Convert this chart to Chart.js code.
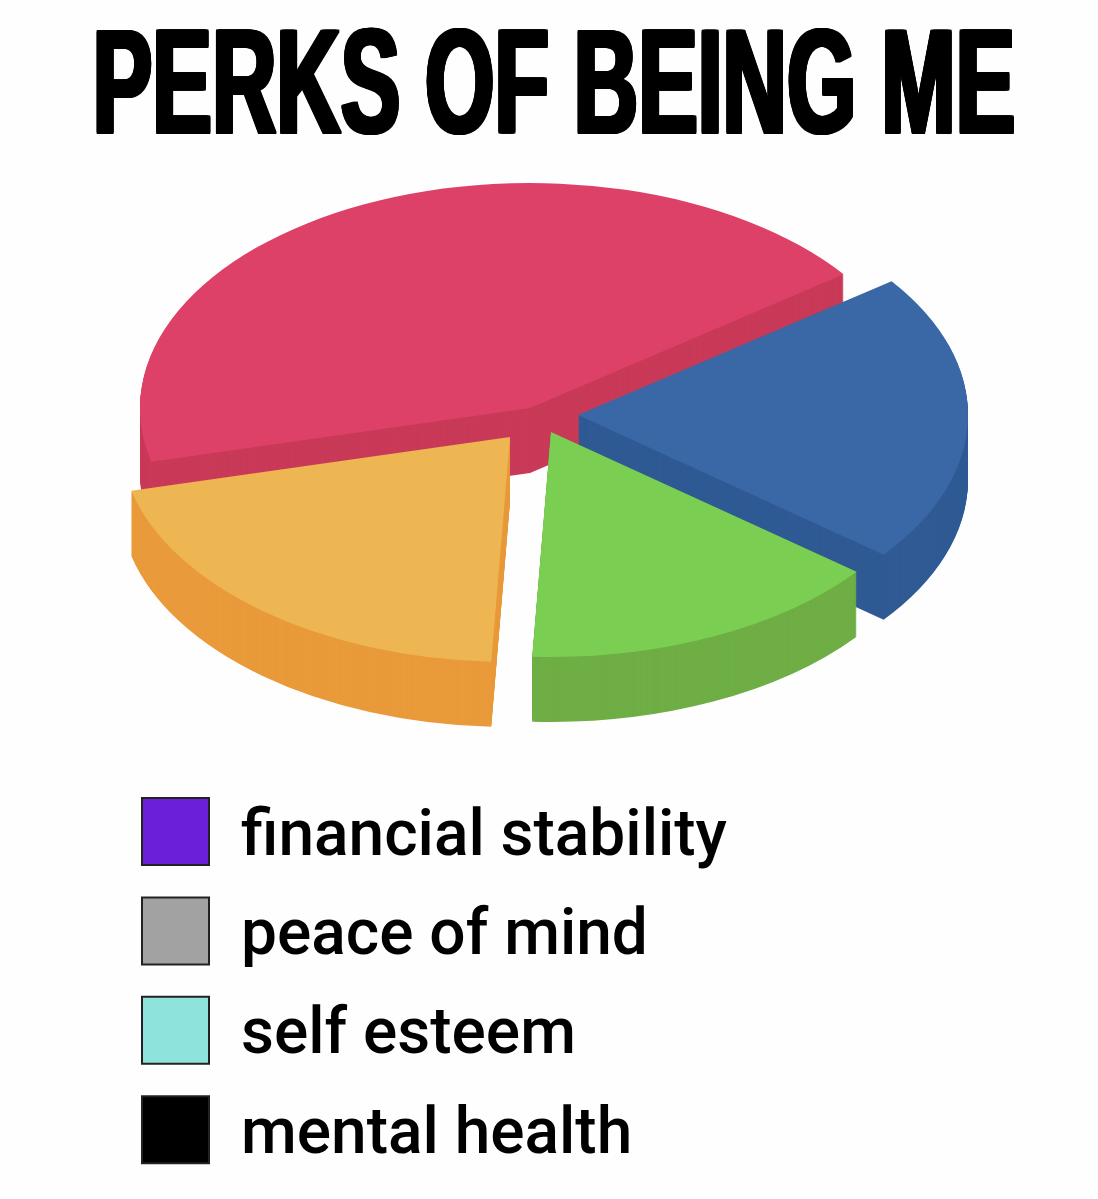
<!DOCTYPE html>
<html lang="en">

<head>
    <meta charset="UTF-8">
    <title>Perks of Being Me</title>
    <script src="https://cdn.jsdelivr.net/npm/chart.js"></script>
    <style>
        body { margin: 0; background: #fefefe; }
        canvas { display: block; }
    </style>
</head>

<body>
    <canvas id="pieChart" width="1098" height="1199"></canvas>

    <script>
        const titleText = 'PERKS OF BEING ME';

        // slices run clockwise from the left edge: red, blue, green, orange
        const sliceValues = [43.7, 20.8, 15.1, 20.4];
        const sliceColors = ['#de4167', '#3a67a5', '#7acf52', '#eeb553'];
        const sideColors = ['#c93a58', '#2f5a94', '#6fae45', '#e99a3a'];

        const legendLabels = ['financial stability', 'peace of mind', 'self esteem', 'mental health'];
        const legendColors = ['#6a20d8', '#a2a2a2', '#8fe3dd', '#000000'];

        // where each slice tip sits on the page, back to front order comes from drawOrder
        const sliceTipX = [530, 578, 551, 510];
        const sliceTipY = [408, 415, 432, 437];
        const drawOrder = [0, 1, 3, 2];
        const radiusX = 390;
        const radiusY = 225;
        const depth = 65;

        function drawArcAt(chart, arc, i, offsetY, color) {
            const ctx = chart.ctx;
            const saved = arc.options;
            arc.options = Object.assign({}, saved, { backgroundColor: color });
            ctx.save();
            ctx.translate(sliceTipX[i], sliceTipY[i] + offsetY);
            ctx.scale(radiusX / arc.outerRadius, radiusY / arc.outerRadius);
            ctx.translate(-arc.x, -arc.y);
            arc.draw(ctx);
            ctx.restore();
            arc.options = saved;
        }

        const pie3d = {
            id: 'pie3d',
            beforeDraw(chart) {
                const ctx = chart.ctx;
                const block = chart.titleBlock;
                if (block.wrapped) return;
                block.wrapped = true;

                // squeeze the title and fatten it, the real one is a heavy condensed face
                const plainTitle = block.draw;
                block.draw = function () {
                    for (let dx = -2; dx <= 2; dx++) {
                        for (let dy = -1; dy <= 1; dy++) {
                            ctx.save();
                            ctx.translate(554 + dx, 3 + dy);
                            ctx.scale(0.84, 1);
                            ctx.translate(-549, 0);
                            plainTitle.call(this);
                            ctx.restore();
                        }
                    }
                };

                // legend text sits a little below the middle of its box
                const legend = chart.legend;
                const plainLegend = legend.draw;
                legend.draw = function () {
                    const plainFill = ctx.fillText;
                    ctx.fillText = function (text, x, y, maxWidth) {
                        plainFill.call(ctx, text, x, y + 7, maxWidth);
                    };
                    plainLegend.call(this);
                    delete ctx.fillText;
                };
            },
            afterLayout(chart) {
                const legend = chart.legend;
                const padding = legend.options.labels.padding;
                legend.left = 142 - padding;
                legend.width = 800;
                legend.right = legend.left + legend.width;
                legend.top = 798 - padding;
                legend.height = 500;
                legend.bottom = 1400;
            },
            beforeDatasetsDraw(chart) {
                const arcs = chart.getDatasetMeta(0).data;
                drawOrder.forEach(function (i) {
                    for (let d = depth; d > 0; d--) {
                        drawArcAt(chart, arcs[i], i, d, sideColors[i]);
                    }
                    drawArcAt(chart, arcs[i], i, 0, sliceColors[i]);
                });
                return false;
            }
        };

        new Chart(document.getElementById('pieChart'), {
            type: 'pie',
            data: {
                labels: legendLabels,
                datasets: [{
                    data: sliceValues,
                    backgroundColor: sliceColors,
                    borderWidth: 0,
                    rotation: 256.2
                }]
            },
            options: {
                responsive: false,
                animation: false,
                plugins: {
                    tooltip: { enabled: false },
                    title: {
                        display: true,
                        text: titleText,
                        color: '#000',
                        font: { family: '"Liberation Sans Narrow", "Liberation Sans"', weight: 'bold', size: 149 },
                        padding: { top: 0, bottom: 0 }
                    },
                    legend: {
                        position: 'left',
                        align: 'start',
                        labels: {
                            boxWidth: 67,
                            boxHeight: 67,
                            padding: 32.4,
                            color: '#0a0a0a',
                            font: { family: 'Roboto', weight: '500', size: 64 },
                            generateLabels() {
                                return legendLabels.map(function (label, i) {
                                    return {
                                        text: label,
                                        fillStyle: legendColors[i],
                                        strokeStyle: '#222',
                                        lineWidth: 2,
                                        index: i
                                    };
                                });
                            }
                        }
                    }
                }
            },
            plugins: [pie3d]
        });
    </script>
</body>

</html>
